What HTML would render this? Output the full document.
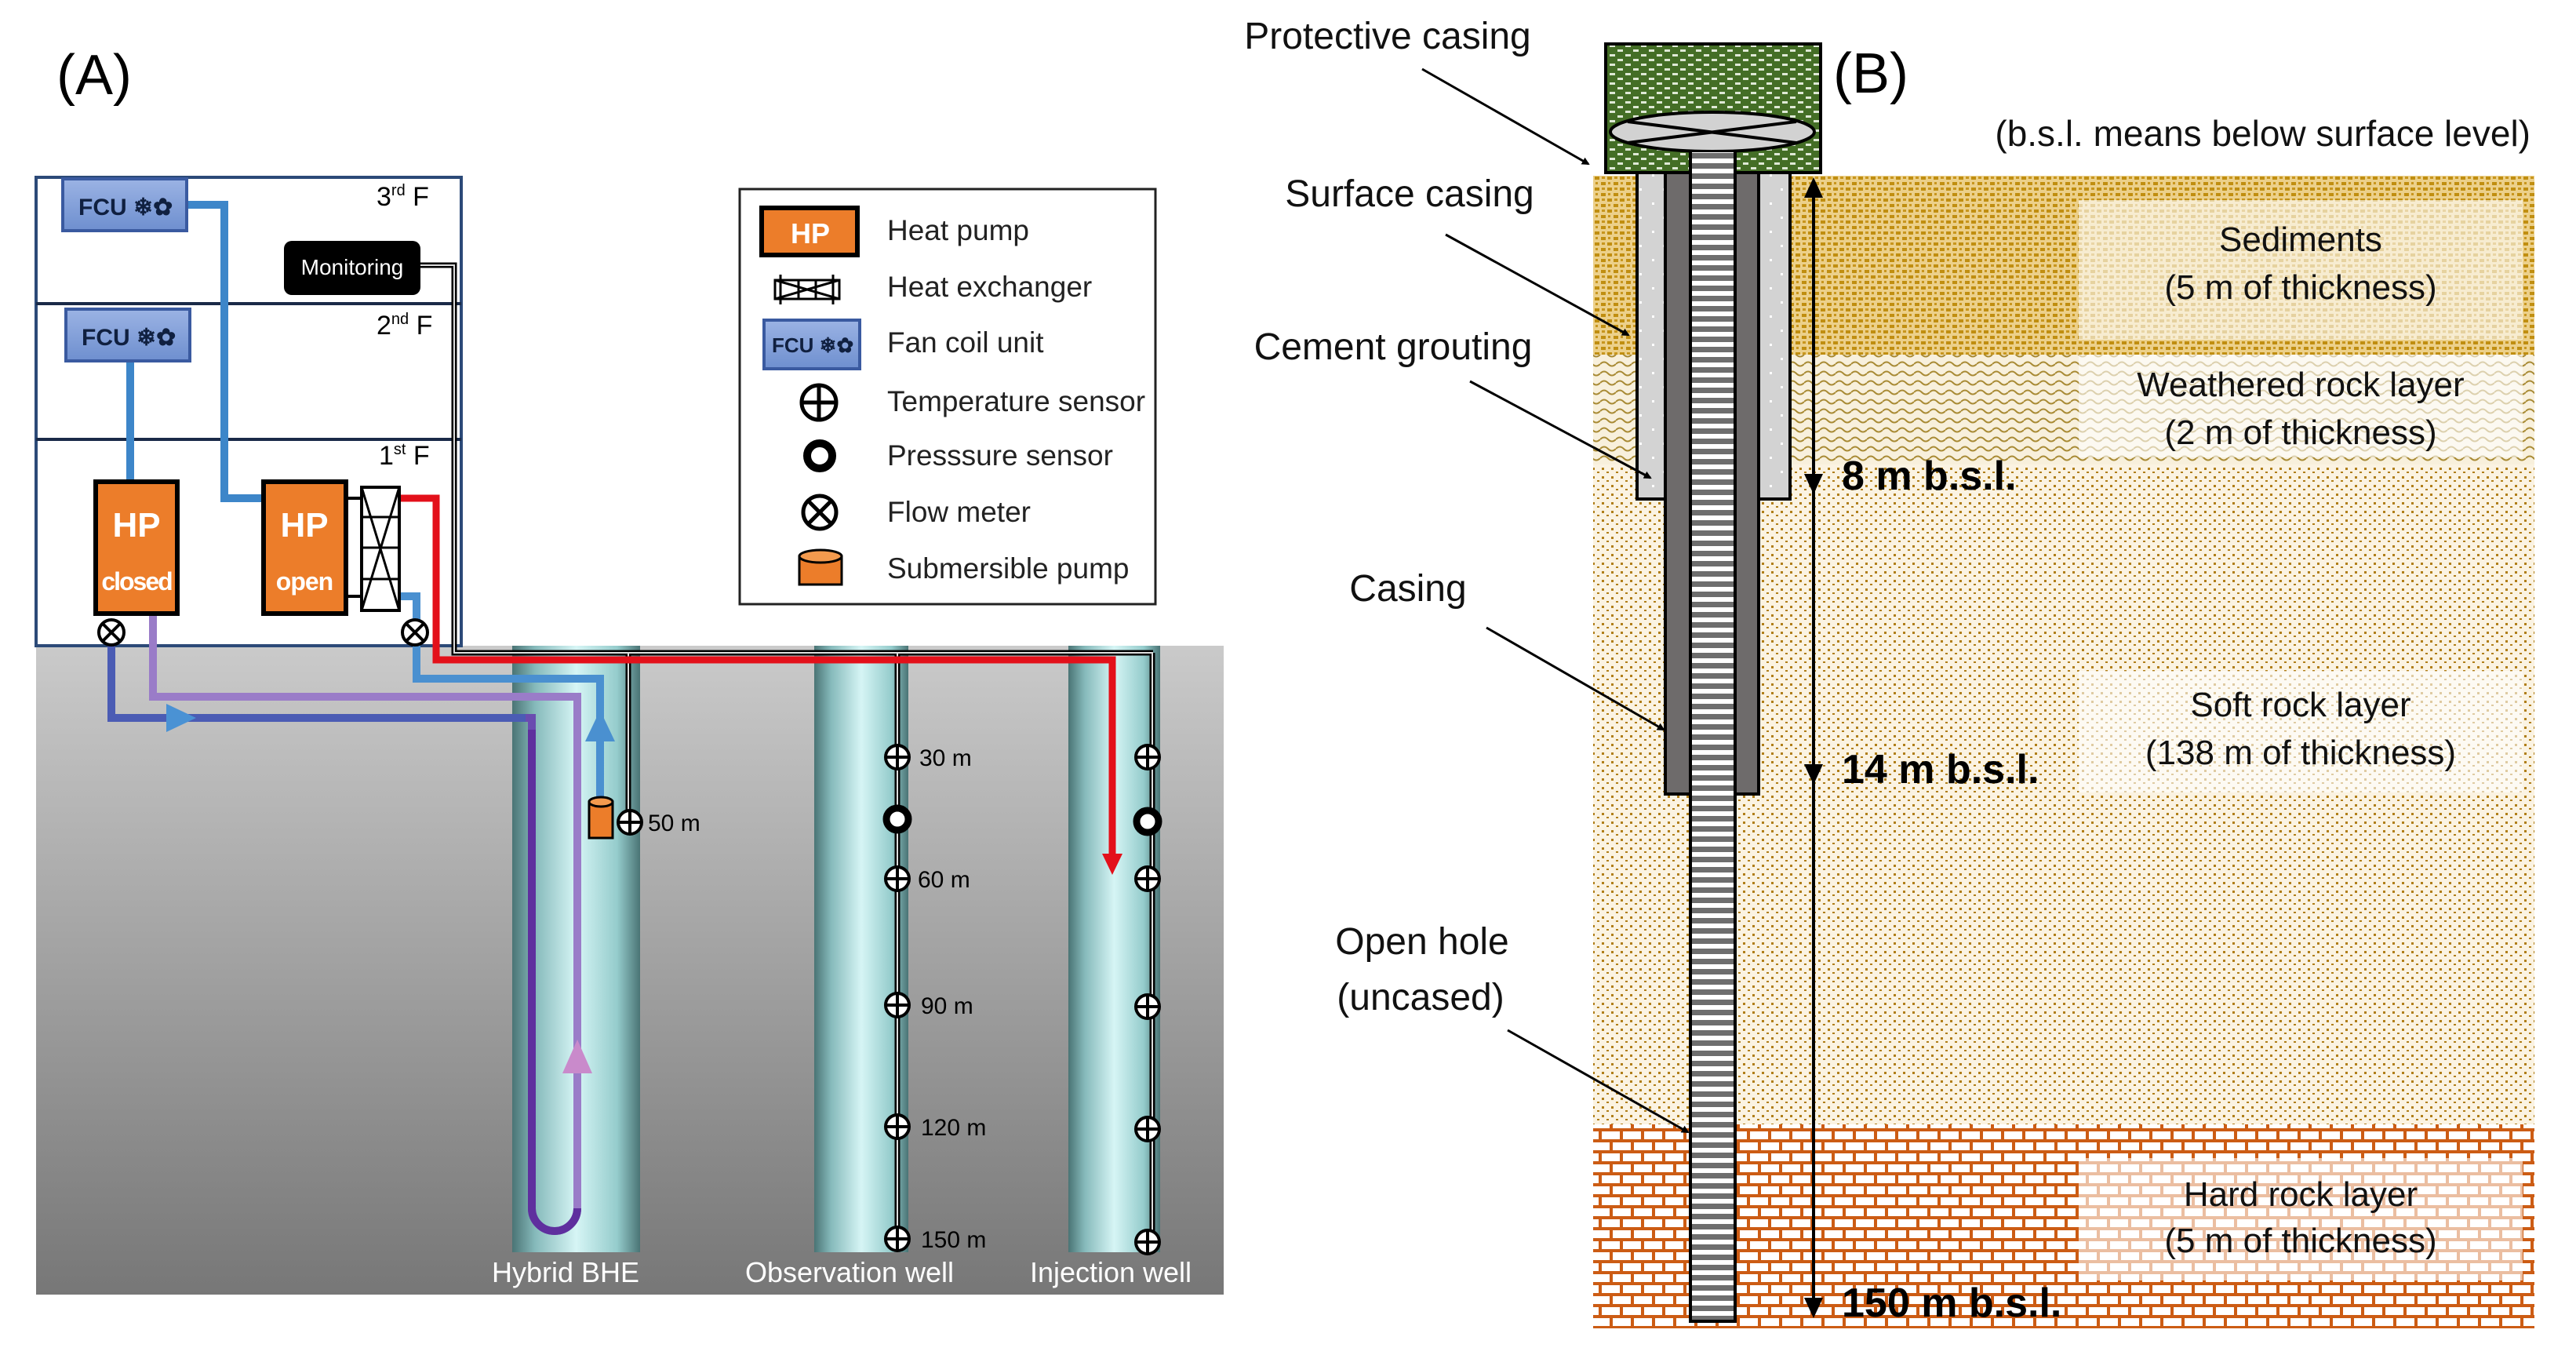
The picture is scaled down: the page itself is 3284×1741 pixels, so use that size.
<!DOCTYPE html>
<html><head><meta charset="utf-8"><style>
html,body{margin:0;padding:0;background:#fff}
svg{display:block}
text{font-family:"Liberation Sans",sans-serif}
</style></head><body>
<svg width="3284" height="1741" viewBox="0 0 3284 1741" xmlns="http://www.w3.org/2000/svg">
<defs>
<linearGradient id="gnd" x1="0" y1="0" x2="0" y2="1"><stop offset="0" stop-color="#cacaca"/><stop offset="1" stop-color="#777"/></linearGradient>
<linearGradient id="well" x1="0" y1="0" x2="1" y2="0"><stop offset="0" stop-color="#4a7475"/><stop offset="0.18" stop-color="#86babb"/><stop offset="0.5" stop-color="#d6f5f5"/><stop offset="0.82" stop-color="#95cccc"/><stop offset="1" stop-color="#4a7475"/></linearGradient>
<linearGradient id="fcu" x1="0" y1="0" x2="0" y2="1"><stop offset="0" stop-color="#9bb3e4"/><stop offset="1" stop-color="#6e8fcf"/></linearGradient>
<pattern id="sed" width="16" height="14" patternUnits="userSpaceOnUse"><rect width="16" height="14" fill="#ecd08a"/><rect x="1" y="1" width="6" height="4" fill="#c08e10"/><rect x="9" y="8" width="6" height="4" fill="#c08e10"/><rect x="10" y="1" width="4" height="3" fill="#c8961e"/><rect x="2" y="8" width="3" height="3" fill="#c8961e"/></pattern>
<pattern id="wea" width="20" height="12" patternUnits="userSpaceOnUse"><rect width="20" height="12" fill="#f8f0dc"/><path d="M0 8 Q5 3 10 8 T20 8" stroke="#a88a34" stroke-width="2" fill="none"/></pattern>
<pattern id="soft" width="12" height="11" patternUnits="userSpaceOnUse"><rect width="12" height="11" fill="#fbf3e2"/><rect x="2" y="2" width="3" height="3" fill="#b07e18"/><rect x="8" y="7" width="3" height="2" fill="#b07e18"/></pattern>
<pattern id="brick" width="54" height="28" patternUnits="userSpaceOnUse"><rect width="54" height="28" fill="#fff"/><rect width="54" height="4" y="10" fill="#cc5c14"/><rect width="54" height="4" y="24" fill="#cc5c14"/><rect x="0" y="0" width="4" height="14" fill="#cc5c14"/><rect x="27" y="0" width="4" height="14" fill="#cc5c14"/><rect x="13" y="14" width="4" height="14" fill="#cc5c14"/><rect x="40" y="14" width="4" height="14" fill="#cc5c14"/></pattern>
<pattern id="green" width="20" height="12" patternUnits="userSpaceOnUse"><rect width="20" height="12" fill="#446e26"/><rect x="2" y="3" width="7" height="3" fill="#dfe9d6"/><rect x="12" y="9" width="7" height="3" fill="#dfe9d6"/></pattern>
<pattern id="stripe" width="20" height="13" patternUnits="userSpaceOnUse"><rect width="20" height="13" fill="#fff"/><rect width="20" height="7" fill="#6e6e6e"/></pattern>
<pattern id="sc" width="30" height="36" patternUnits="userSpaceOnUse"><rect width="30" height="36" fill="#d3d3d3"/><rect x="6" y="6" width="3" height="3" fill="#fff"/><rect x="20" y="24" width="3" height="3" fill="#fff"/></pattern>
<marker id="ah" markerWidth="10" markerHeight="10" refX="8" refY="5" orient="auto" markerUnits="userSpaceOnUse" viewBox="0 0 10 10"><path d="M0 0 L10 5 L0 10 z" fill="#000"/></marker>
<g id="ts"><circle r="15" fill="#fff" stroke="#000" stroke-width="4"/><path d="M-15 0H15M0 -15V15" stroke="#000" stroke-width="4"/></g>
<g id="ps"><circle r="14" fill="#fff" stroke="#000" stroke-width="9"/></g>
<g id="fm"><circle r="16" fill="#fff" stroke="#000" stroke-width="4"/><path d="M-11 -11L11 11M11 -11L-11 11" stroke="#000" stroke-width="4"/></g>
<g id="tsL"><circle r="22" fill="#fff" stroke="#000" stroke-width="5"/><path d="M-22 0H22M0 -22V22" stroke="#000" stroke-width="5"/></g>
<g id="fmL"><circle r="21" fill="#fff" stroke="#000" stroke-width="5"/><path d="M-15 -15L15 15M15 -15L-15 15" stroke="#000" stroke-width="5"/></g>
</defs>

<!-- PANEL A -->
<text x="72" y="120" font-size="72">(A)</text>
<rect x="46" y="823" width="1514" height="827" fill="url(#gnd)"/>
<rect x="46" y="226" width="542" height="597" fill="#fff" stroke="#2c4a78" stroke-width="4"/>
<line x1="46" y1="387" x2="588" y2="387" stroke="#1a2a48" stroke-width="4"/>
<line x1="46" y1="560" x2="588" y2="560" stroke="#1a2a48" stroke-width="4"/>
<text x="480" y="262" font-size="34">3<tspan font-size="20" dy="-13">rd</tspan><tspan dy="13"> F</tspan></text>
<text x="480" y="426" font-size="34">2<tspan font-size="20" dy="-13">nd</tspan><tspan dy="13"> F</tspan></text>
<text x="483" y="592" font-size="34">1<tspan font-size="20" dy="-13">st</tspan><tspan dy="13"> F</tspan></text>

<rect x="653" y="823" width="163" height="773" fill="url(#well)"/>
<rect x="1038" y="823" width="120" height="773" fill="url(#well)"/>
<rect x="1362" y="823" width="117" height="773" fill="url(#well)"/>
<text x="721" y="1634" font-size="36" fill="#fff" text-anchor="middle">Hybrid BHE</text>
<text x="1083" y="1634" font-size="36" fill="#fff" text-anchor="middle">Observation well</text>
<text x="1416" y="1634" font-size="36" fill="#fff" text-anchor="middle">Injection well</text>

<path d="M536 338H579V832H1470M801 832V1046M1144 832V1580M1469 832V1580" fill="none" stroke="#000" stroke-width="7"/>
<path d="M536 338H579V832H1470M801 832V1046M1144 832V1580M1469 832V1580" fill="none" stroke="#ddd" stroke-width="2"/>

<path d="M238 261H286V635H335" fill="none" stroke="#3d86c9" stroke-width="10"/>
<path d="M166 462V612" fill="none" stroke="#3d86c9" stroke-width="10"/>
<path d="M142 822V915H678V1540 A29 29 0 0 0 736 1540 V888H195V785" fill="none" stroke="#6a4cb0" stroke-width="10"/>
<path d="M142 822V915H670" fill="none" stroke="#4b5cb4" stroke-width="10"/>
<path d="M736 1540V888H195V785" fill="none" stroke="#9a7cc8" stroke-width="10"/>
<path d="M678 930V1540 A29 29 0 0 0 736 1540" fill="none" stroke="#5f2f9e" stroke-width="10"/>
<path d="M212 897L250 915L212 933z" fill="#4a92d4"/>
<path d="M736 1325L755 1368H717z" fill="#c98acb"/>
<path d="M509 760H531V865H765V1018" fill="none" stroke="#4a90d0" stroke-width="10"/>
<path d="M765 905L784 945H746z" fill="#4a90d0"/>
<path d="M509 635H556V841H1418V1090" fill="none" stroke="#e3101a" stroke-width="9"/>
<path d="M1405 1088L1431 1088L1418 1115z" fill="#e3101a"/>
<use href="#fm" x="142" y="806"/>
<use href="#fm" x="529" y="806"/>

<rect x="80" y="228" width="158" height="66" fill="url(#fcu)" stroke="#3a5aa0" stroke-width="4"/>
<text x="100" y="274" font-size="30" font-weight="bold" fill="#102040">FCU ❄✿</text>
<rect x="84" y="394" width="158" height="66" fill="url(#fcu)" stroke="#3a5aa0" stroke-width="4"/>
<text x="104" y="440" font-size="30" font-weight="bold" fill="#102040">FCU ❄✿</text>
<rect x="362" y="307" width="174" height="69" rx="10" fill="#000"/>
<text x="449" y="350" font-size="28" fill="#fff" text-anchor="middle">Monitoring</text>

<rect x="122" y="614" width="104" height="168" fill="#ec7d2a" stroke="#000" stroke-width="6"/>
<text x="174" y="684" font-size="44" font-weight="bold" fill="#fff" text-anchor="middle">HP</text>
<text x="174" y="752" font-size="32" font-weight="bold" fill="#fff" text-anchor="middle" letter-spacing="-2">closed</text>
<rect x="336" y="614" width="105" height="168" fill="#ec7d2a" stroke="#000" stroke-width="6"/>
<text x="388" y="684" font-size="44" font-weight="bold" fill="#fff" text-anchor="middle">HP</text>
<text x="388" y="752" font-size="32" font-weight="bold" fill="#fff" text-anchor="middle" letter-spacing="-1">open</text>
<path d="M441 635H461M441 760H461" stroke="#000" stroke-width="4"/>
<rect x="461" y="621" width="48" height="157" fill="#fff" stroke="#000" stroke-width="4"/>
<path d="M461 659H509M461 698H509M461 738H509M461 621L509 778M509 621L461 778" stroke="#000" stroke-width="3"/>

<rect x="751" y="1022" width="30" height="46" fill="#ec7d2a" stroke="#000" stroke-width="3"/>
<ellipse cx="766" cy="1022" rx="15" ry="6" fill="#f39a4e" stroke="#000" stroke-width="3"/>
<use href="#ts" x="803" y="1048"/>
<text x="826" y="1059" font-size="30">50 m</text>
<g font-size="30">
<use href="#ts" x="1144" y="965"/><text x="1172" y="976">30 m</text>
<use href="#ps" x="1144" y="1044"/>
<use href="#ts" x="1144" y="1120"/><text x="1170" y="1131">60 m</text>
<use href="#ts" x="1144" y="1281"/><text x="1174" y="1292">90 m</text>
<use href="#ts" x="1144" y="1436"/><text x="1174" y="1447">120 m</text>
<use href="#ts" x="1144" y="1579"/><text x="1174" y="1590">150 m</text>
<use href="#ts" x="1463" y="965"/>
<use href="#ps" x="1463" y="1047"/>
<use href="#ts" x="1463" y="1120"/>
<use href="#ts" x="1463" y="1283"/>
<use href="#ts" x="1463" y="1439"/>
<use href="#ts" x="1463" y="1583"/>
</g>

<rect x="943" y="241" width="530" height="529" fill="#fff" stroke="#222" stroke-width="3"/>
<rect x="971" y="265" width="122" height="60" fill="#ec7d2a" stroke="#000" stroke-width="6"/>
<text x="1033" y="310" font-size="36" font-weight="bold" fill="#fff" text-anchor="middle">HP</text>
<g stroke="#000" stroke-width="3" fill="none"><rect x="988" y="357" width="82" height="24"/><path d="M995 350V388M1062 350V388M988 357L1070 381M1070 357L988 381M1018 357V381M1040 357V381"/></g>
<rect x="974" y="408" width="122" height="62" fill="url(#fcu)" stroke="#3a5aa0" stroke-width="4"/>
<text x="984" y="449" font-size="26" font-weight="bold" fill="#102040">FCU ❄✿</text>
<use href="#tsL" x="1044" y="513"/>
<circle cx="1045" cy="581" r="16" fill="#fff" stroke="#000" stroke-width="10"/>
<use href="#fmL" x="1045" y="653"/>
<rect x="1019" y="709" width="54" height="36" fill="#ec7d2a" stroke="#000" stroke-width="3"/>
<ellipse cx="1046" cy="709" rx="27" ry="8" fill="#f39a4e" stroke="#000" stroke-width="3"/>
<g font-size="37" fill="#222">
<text x="1131" y="306">Heat pump</text>
<text x="1131" y="378">Heat exchanger</text>
<text x="1131" y="449">Fan coil unit</text>
<text x="1131" y="524">Temperature sensor</text>
<text x="1131" y="593">Presssure sensor</text>
<text x="1131" y="665">Flow meter</text>
<text x="1131" y="737">Submersible pump</text>
</g>

<!-- PANEL B -->
<rect x="2031" y="224" width="1200" height="228" fill="url(#sed)"/>
<rect x="2031" y="452" width="1200" height="140" fill="url(#wea)"/>
<rect x="2031" y="592" width="1200" height="841" fill="url(#soft)"/>
<rect x="2031" y="1433" width="1200" height="260" fill="url(#brick)"/>
<g fill="#fff" opacity="0.6">
<rect x="2650" y="255" width="566" height="178"/>
<rect x="2650" y="452" width="566" height="131"/>
<rect x="2650" y="855" width="566" height="155"/>
<rect x="2650" y="1476" width="566" height="156"/>
</g>
<g font-size="44" fill="#111" text-anchor="middle">
<text x="2933" y="320">Sediments</text>
<text x="2933" y="381">(5 m of thickness)</text>
<text x="2933" y="505">Weathered rock layer</text>
<text x="2933" y="566">(2 m of thickness)</text>
<text x="2933" y="913">Soft rock layer</text>
<text x="2933" y="974">(138 m of thickness)</text>
<text x="2933" y="1537">Hard rock layer</text>
<text x="2933" y="1596">(5 m of thickness)</text>
</g>
<text x="3226" y="186" font-size="46" fill="#111" text-anchor="end">(b.s.l. means below surface level)</text>
<text x="2337" y="118" font-size="72">(B)</text>

<rect x="2087" y="205" width="195" height="431" fill="url(#sc)" stroke="#000" stroke-width="4"/>
<rect x="2123" y="205" width="119" height="807" fill="#6e6b6b" stroke="#000" stroke-width="4"/>
<rect x="2155" y="190" width="57" height="1494" fill="url(#stripe)" stroke="#000" stroke-width="4"/>
<rect x="2047" y="56" width="274" height="164" fill="url(#green)" stroke="#000" stroke-width="4"/>
<ellipse cx="2183" cy="168" rx="130" ry="25" fill="#d2d2d2" stroke="#000" stroke-width="4"/>
<path d="M2075 155L2290 182M2290 155L2075 182" stroke="#000" stroke-width="4"/>
<rect x="2155" y="194" width="57" height="30" fill="url(#stripe)"/>
<line x1="2155" y1="194" x2="2155" y2="224" stroke="#000" stroke-width="4"/>
<line x1="2212" y1="194" x2="2212" y2="224" stroke="#000" stroke-width="4"/>

<line x1="2312" y1="235" x2="2312" y2="1672" stroke="#000" stroke-width="4"/>
<path d="M2312 226L2300 252H2324z" fill="#000"/>
<path d="M2312 630L2300 604H2324z" fill="#000"/>
<path d="M2312 1000L2300 974H2324z" fill="#000"/>
<path d="M2312 1680L2300 1654H2324z" fill="#000"/>
<g font-size="52" font-weight="bold" fill="#000">
<text x="2348" y="624">8 m b.s.l.</text>
<text x="2348" y="998">14 m b.s.l.</text>
<text x="2348" y="1678">150 m b.s.l.</text>
</g>

<g font-size="48" fill="#111" text-anchor="middle">
<text x="1769" y="62">Protective casing</text>
<text x="1797" y="263">Surface casing</text>
<text x="1776" y="458">Cement grouting</text>
<text x="1795" y="766">Casing</text>
<text x="1813" y="1216">Open hole</text>
<text x="1811" y="1287">(uncased)</text>
</g>
<g stroke="#000" stroke-width="3" marker-end="url(#ah)">
<line x1="1813" y1="88" x2="2025" y2="209"/>
<line x1="1843" y1="299" x2="2076" y2="427"/>
<line x1="1874" y1="486" x2="2104" y2="609"/>
<line x1="1895" y1="800" x2="2121" y2="930"/>
<line x1="1922" y1="1313" x2="2152" y2="1443"/>
</g>
</svg>
</body></html>
